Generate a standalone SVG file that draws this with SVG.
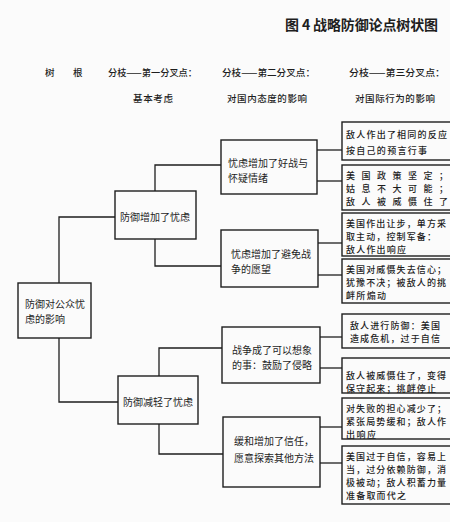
<svg xmlns="http://www.w3.org/2000/svg" width="450" height="522" viewBox="0 0 450 522">
<style>
text{font-family:"Noto Sans CJK SC","Noto Sans CJK TC",sans-serif;fill:#1e1e1e;font-size:10px;dominant-baseline:central}
.box{fill:none;stroke:#1e1e1e;stroke-width:1.4}
.con{fill:none;stroke:#1e1e1e;stroke-width:1.3}
.title{font-size:14px;font-weight:bold}
.hd{font-size:9.5px;font-weight:500}
.r{font-size:9px;font-weight:500}
</style>
<rect width="450" height="522" fill="#fbfbfb"/>
<text class="title" x="285" y="24" textLength="153" lengthAdjust="spacing">图 4 战略防御论点树状图</text>
<g id="header">
<text class="hd" x="45" y="72">树</text>
<text class="hd" x="73" y="72">根</text>
<text class="hd" x="108" y="72" textLength="89" lengthAdjust="spacingAndGlyphs">分枝——第一分叉点：</text>
<text class="hd" x="222" y="72" textLength="93" lengthAdjust="spacingAndGlyphs">分枝——第二分叉点：</text>
<text class="hd" x="349" y="72" textLength="96" lengthAdjust="spacingAndGlyphs">分枝——第三分叉点：</text>
<text class="hd" x="133" y="98" textLength="40" lengthAdjust="spacing">基本考虑</text>
<text class="hd" x="227" y="98" textLength="80" lengthAdjust="spacing">对国内态度的影响</text>
<text class="hd" x="355" y="98" textLength="80" lengthAdjust="spacing">对国际行为的影响</text>
</g>
<g id="connectors">
<path class="con" d="M59,283 V217 H115"/>
<path class="con" d="M59,338 V402 H118"/>
<path class="con" d="M155,191 V165 H221"/>
<path class="con" d="M155,239 V266 H221"/>
<path class="con" d="M159,376 V348 H222"/>
<path class="con" d="M159,424 V454 H223"/>
<path class="con" d="M317,150 H342"/>
<path class="con" d="M317,181 H342"/>
<path class="con" d="M318,243 H342"/>
<path class="con" d="M318,275 H342"/>
<path class="con" d="M320,337 H342"/>
<path class="con" d="M320,368 H342"/>
<path class="con" d="M320,427 H342"/>
<path class="con" d="M320,463 H342"/>
</g>
<g id="root">
<rect class="box" x="18" y="283" width="73" height="55"/>
<text x="25" y="303">防御对公众忧</text>
<text x="25" y="318">虑的影响</text>
</g>
<g id="n1">
<rect class="box" x="115" y="191" width="81" height="48"/>
<text x="120" y="216">防御增加了忧虑</text>
</g>
<g id="n2">
<rect class="box" x="118" y="376" width="80" height="48"/>
<text x="123" y="401">防御减轻了忧虑</text>
</g>
<g id="nA">
<rect class="box" x="221" y="140" width="96" height="54"/>
<text x="228" y="162">忧虑增加了好战与</text>
<text x="228" y="177">怀疑情绪</text>
</g>
<g id="nB">
<rect class="box" x="221" y="230" width="97" height="57"/>
<text x="231" y="253.5">忧虑增加了避免战</text>
<text x="231" y="268.5">争的愿望</text>
</g>
<g id="nC">
<rect class="box" x="222" y="327" width="98" height="56"/>
<text x="232" y="349.5">战争成了可以想象</text>
<text x="232" y="364.5">的事：鼓励了侵略</text>
</g>
<g id="nD">
<rect class="box" x="223" y="417" width="97" height="70"/>
<text x="234" y="440">缓和增加了信任，</text>
<text x="234" y="457">愿意探索其他方法</text>
</g>
<g id="r1">
<rect class="box" x="342" y="122" width="115" height="38"/>
<text class="r" x="346" y="134" textLength="101" lengthAdjust="spacing">敌人作出了相同的反应</text>
<text class="r" x="346" y="150" textLength="81" lengthAdjust="spacing">按自己的预言行事</text>
</g>
<g id="r2">
<rect class="box" x="342" y="165" width="115" height="45"/>
<text class="r" x="346" y="175" textLength="102" lengthAdjust="spacing">美国政策坚定；</text>
<text class="r" x="346" y="188" textLength="102" lengthAdjust="spacing">姑息不大可能；</text>
<text class="r" x="346" y="201" textLength="102" lengthAdjust="spacing">敌人被威慑住了</text>
</g>
<g id="r3">
<rect class="box" x="342" y="213" width="115" height="43"/>
<text class="r" x="346" y="223" textLength="100" lengthAdjust="spacing">美国作出让步，单方采</text>
<text class="r" x="346" y="236" textLength="90" lengthAdjust="spacing">取主动，控制军备：</text>
<text class="r" x="346" y="249" textLength="60" lengthAdjust="spacing">敌人作出响应</text>
</g>
<g id="r4">
<rect class="box" x="342" y="259" width="115" height="44"/>
<text class="r" x="346" y="269" textLength="100" lengthAdjust="spacing">美国对威慑失去信心；</text>
<text class="r" x="346" y="282" textLength="100" lengthAdjust="spacing">犹豫不决；被敌人的挑</text>
<text class="r" x="346" y="295" textLength="40" lengthAdjust="spacing">衅所煽动</text>
</g>
<g id="r5">
<rect class="box" x="342" y="314" width="115" height="34"/>
<text class="r" x="350" y="325" textLength="90" lengthAdjust="spacing">敌人进行防御：美国</text>
<text class="r" x="350" y="338" textLength="90" lengthAdjust="spacing">造成危机，过于自信</text>
</g>
<g id="r6">
<rect class="box" x="342" y="358" width="115" height="35"/>
<text class="r" x="346" y="375" textLength="100" lengthAdjust="spacing">敌人被威慑住了，变得</text>
<text class="r" x="346" y="388" textLength="90" lengthAdjust="spacing">保守起来；挑衅停止</text>
</g>
<g id="r7">
<rect class="box" x="342" y="398" width="115" height="41"/>
<text class="r" x="346" y="408" textLength="100" lengthAdjust="spacing">对失败的担心减少了；</text>
<text class="r" x="346" y="421" textLength="100" lengthAdjust="spacing">紧张局势缓和；敌人作</text>
<text class="r" x="346" y="434" textLength="30" lengthAdjust="spacing">出响应</text>
</g>
<g id="r8">
<rect class="box" x="342" y="446" width="115" height="58"/>
<text class="r" x="346" y="456" textLength="100" lengthAdjust="spacing">美国过于自信，容易上</text>
<text class="r" x="346" y="469" textLength="100" lengthAdjust="spacing">当，过分依赖防御，消</text>
<text class="r" x="346" y="482" textLength="100" lengthAdjust="spacing">极被动；敌人积蓄力量</text>
<text class="r" x="346" y="495" textLength="60" lengthAdjust="spacing">准备取而代之</text>
</g>
</svg>
